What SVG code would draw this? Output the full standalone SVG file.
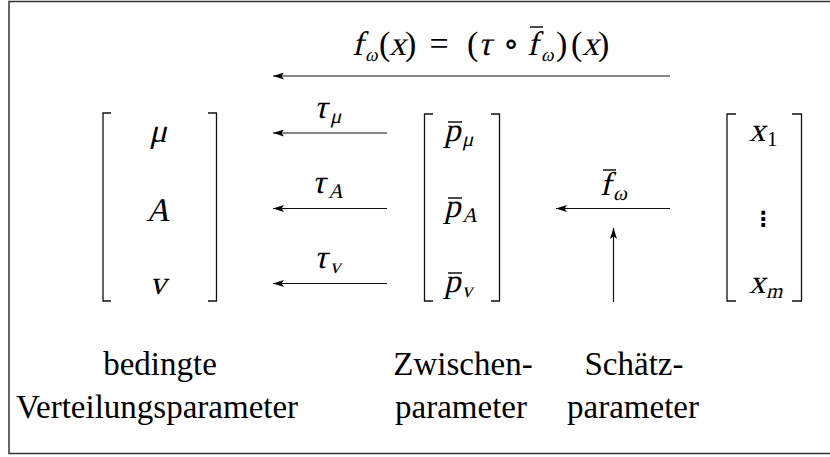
<svg xmlns="http://www.w3.org/2000/svg" width="830" height="457" viewBox="0 0 830 457">
<style>
.m,.r{font-family:"Liberation Serif","DejaVu Serif",serif;font-style:normal;font-size:33px;fill:#000}
.f{font-size:34px}
.s{font-size:21px}
.ss{font-size:19px}
.lbl{font-family:"Liberation Serif","DejaVu Serif",serif;font-size:33px;fill:#000;text-anchor:middle}
.br{fill:none;stroke:#111;stroke-width:1.3}
.ar{fill:none;stroke:#111;stroke-width:1.2;marker-end:url(#ah)}
.bar{stroke:#000;stroke-width:1.4}
</style>
<defs>
<marker id="ah" viewBox="0 0 11 7" refX="11" refY="3.5" markerWidth="11" markerHeight="7" markerUnits="userSpaceOnUse" orient="auto">
<path d="M11,3.5 L0,0 L2.5,3.5 L0,7 Z" fill="#000"/>
</marker>
</defs>
<rect width="830" height="457" fill="#fff"/>
<path id="frame" d="M832,1.5 H9 V453.5 H832" fill="none" stroke="#333" stroke-width="1.5"/>

<g id="formula">
<text class="m f" transform="translate(352,55) skewX(-13)">f</text>
<text class="m ss" transform="translate(365,61) skewX(-13)">ω</text>
<text class="r f" x="379" y="55">(</text>
<text class="m f" transform="translate(389,55) skewX(-13)">x</text>
<text class="r f" x="405" y="55">)</text>
<text class="r f" x="439" y="55" text-anchor="middle">=</text>
<text class="r f" x="467" y="55">(</text>
<text class="m f" transform="translate(478,55) skewX(-13)">τ</text>
<text class="r f" x="511" y="55" text-anchor="middle">∘</text>
<text class="m f" transform="translate(527,55) skewX(-13)">f</text>
<line class="bar" x1="530" y1="27" x2="543" y2="27"/>
<text class="m ss" transform="translate(541,61) skewX(-13)">ω</text>
<text class="r f" x="556" y="55">)</text>
<text class="r f" x="571" y="55">(</text>
<text class="m f" transform="translate(582,55) skewX(-13)">x</text>
<text class="r f" x="598" y="55">)</text>
</g>

<g id="node-bedingte">
<path class="br" d="M111,113 H103 V301 H111"/>
<path class="br" d="M208,113 H216.5 V301 H208"/>
<text class="m" text-anchor="middle" transform="translate(158,142) skewX(-13)">μ</text>
<text class="m" text-anchor="middle" transform="translate(158,221) skewX(-13)">A</text>
<text class="m" text-anchor="middle" transform="translate(158,294) skewX(-13)">v</text>
</g>

<g id="node-zwischen">
<path class="br" d="M433,114 H424.5 V301 H433"/>
<path class="br" d="M491,114 H499.5 V301 H491"/>
<text class="m" transform="translate(444,141) skewX(-13)">p</text>
<line class="bar" x1="448" y1="122" x2="462" y2="122"/>
<text class="m s" transform="translate(462,146) skewX(-13)">μ</text>
<text class="m" transform="translate(444,217) skewX(-13)">p</text>
<line class="bar" x1="448" y1="198" x2="462" y2="198"/>
<text class="m s" transform="translate(462,222) skewX(-13)">A</text>
<text class="m" transform="translate(444,292) skewX(-13)">p</text>
<line class="bar" x1="448" y1="273" x2="462" y2="273"/>
<text class="m s" transform="translate(462,297) skewX(-13)">v</text>
</g>

<g id="node-x">
<path class="br" d="M736,114 H727 V301 H736"/>
<path class="br" d="M792,114 H801.5 V301 H792"/>
<text class="m" transform="translate(749,141) skewX(-13)">x</text>
<text class="r s" x="767" y="146">1</text>
<text x="763" y="226" text-anchor="middle" style="font-family:'DejaVu Sans',sans-serif;font-size:21px;font-weight:bold">⋮</text>
<text class="m" transform="translate(749,293) skewX(-13)">x</text>
<text class="m s" transform="translate(766,298) skewX(-13)">m</text>
</g>

<g id="connectors">
<line class="ar" x1="670" y1="76" x2="273" y2="76"/>
<line class="ar" x1="387" y1="133" x2="273" y2="133"/>
<line class="ar" x1="387" y1="208.5" x2="273" y2="208.5"/>
<line class="ar" x1="387" y1="283.5" x2="273" y2="283.5"/>
<line class="ar" x1="670" y1="208.5" x2="556" y2="208.5"/>
<line class="ar" x1="613.5" y1="302" x2="613.5" y2="228"/>
</g>

<g id="edge-labels">
<text class="m" transform="translate(314,118) skewX(-13)">τ</text>
<text class="m s" transform="translate(330,123) skewX(-13)">μ</text>
<text class="m" transform="translate(312,193) skewX(-13)">τ</text>
<text class="m s" transform="translate(328,198) skewX(-13)">A</text>
<text class="m" transform="translate(314,268) skewX(-13)">τ</text>
<text class="m s" transform="translate(330,273) skewX(-13)">v</text>
<text class="m" transform="translate(600,195) skewX(-13)">f</text>
<line class="bar" x1="603" y1="170" x2="616" y2="170"/>
<text class="m s" transform="translate(613,200) skewX(-13)">ω</text>
</g>

<g id="captions">
<text class="lbl" x="160" y="375">bedingte</text>
<text class="lbl" x="157" y="418">Verteilungsparameter</text>
<text class="lbl" x="463" y="375">Zwischen-</text>
<text class="lbl" x="461" y="418">parameter</text>
<text class="lbl" x="634" y="375">Schätz-</text>
<text class="lbl" x="633" y="418">parameter</text>
</g>
</svg>
